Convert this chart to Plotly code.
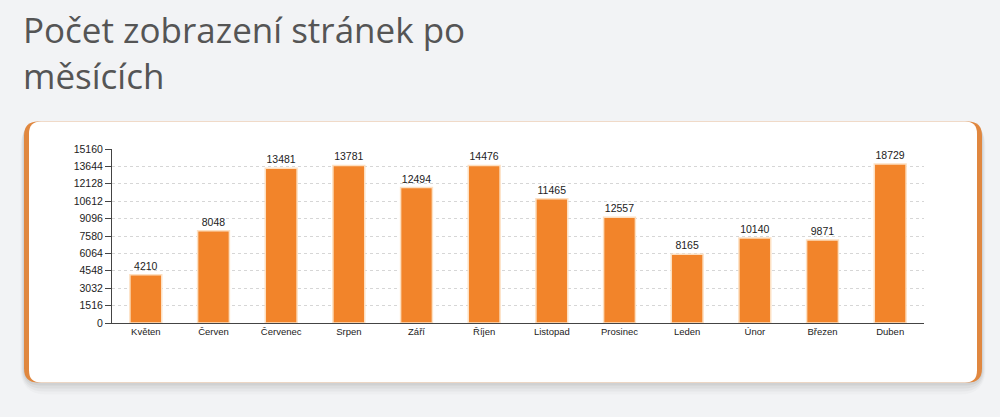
import plotly.graph_objects as go

months = ["Květen", "Červen", "Červenec", "Srpen", "Září", "Říjen",
          "Listopad", "Prosinec", "Leden", "Únor", "Březen", "Duben"]
bar_heights = [4210, 8048, 13481, 13730, 11800, 13730, 10820, 9220, 5980, 7400, 7230, 13850]
bar_labels = ["4210", "8048", "13481", "13781", "12494", "14476",
              "11465", "12557", "8165", "10140", "9871", "18729"]
y_ticks = [0, 1516, 3032, 4548, 6064, 7580, 9096, 10612, 12128, 13644, 15160]
title_lines = ["Počet zobrazení stránek po", "měsících"]

FIG_W, FIG_H = 1000, 417
L, R, T, B = 112, 924, 149.3, 322.7
PW, PH = R - L, B - T


def px(x):
    return (x - L) / PW


def py(y):
    return (B - y) / PH


def rrect(x0, y0, x1, y1, r):
    X0, X1 = px(x0), px(x1)
    Y0, Y1 = py(y0), py(y1)
    rx, ry = r / PW, r / PH
    return (f"M {X0+rx} {Y0} L {X1-rx} {Y0} Q {X1} {Y0} {X1} {Y0-ry} "
            f"L {X1} {Y1+ry} Q {X1} {Y1} {X1-rx} {Y1} L {X0+rx} {Y1} "
            f"Q {X0} {Y1} {X0} {Y1+ry} L {X0} {Y0-ry} Q {X0} {Y0} {X0+rx} {Y0} Z")


shapes = []
for d, op in [(12, 0.02), (9, 0.03), (6, 0.04), (3, 0.05)]:
    shapes.append(dict(type="path", xref="paper", yref="paper", layer="below",
                       path=rrect(24 - d * 0.3, 122, 982 + d * 0.3, 382 + d, 14 + d),
                       fillcolor=f"rgba(0,0,0,{op})", line=dict(width=0)))
shapes.append(dict(type="path", xref="paper", yref="paper", layer="below",
                   path=rrect(24, 122, 982, 382, 14),
                   fillcolor="#e0873f", line=dict(width=0)))
shapes.append(dict(type="path", xref="paper", yref="paper", layer="below",
                   path=rrect(29, 122, 977, 382, 12),
                   fillcolor="#ffffff", line=dict(width=0)))

fig = go.Figure()
fig.add_trace(go.Bar(
    x=months, y=bar_heights,
    text=bar_labels, textposition="outside",
    outsidetextfont=dict(family="Liberation Sans, Arial", size=10.5, color="#222"),
    marker=dict(color="#f2842a", line=dict(color="#fde0c2", width=1.5)),
    cliponaxis=False, hoverinfo="skip",
))

annotations = [dict(
    text="<br>".join(title_lines), xref="paper", yref="paper", x=px(21), y=py(5),
    xanchor="left", yanchor="top", align="left", showarrow=False,
    font=dict(family="Open Sans", size=35, color="#555555"),
)]

fig.update_layout(
    width=FIG_W, height=FIG_H,
    margin=dict(l=L, r=FIG_W - R, t=T, b=FIG_H - B, autoexpand=False),
    paper_bgcolor="#f2f3f5", plot_bgcolor="rgba(0,0,0,0)",
    bargap=0.53, showlegend=False,
    shapes=shapes,
    xaxis=dict(showgrid=False, showline=True, linecolor="#444", linewidth=1,
               ticks="", tickfont=dict(family="Liberation Sans, Arial", size=9.5, color="#222"),
               fixedrange=True),
    yaxis=dict(range=[0, 15160], tickvals=y_ticks, ticktext=[str(v) for v in y_ticks],
               showline=True, linecolor="#444", linewidth=1,
               ticks="outside", ticklen=6, tickcolor="#444",
               showgrid=True, gridcolor="#d6d6d6", griddash="dot", gridwidth=1,
               zeroline=False,
               tickfont=dict(family="Liberation Sans, Arial", size=10.5, color="#222"),
               fixedrange=True),
    annotations=annotations,
)

fig.write_html(
    "out.html",
    config={"displayModeBar": False, "staticPlot": True},
    post_script="document.body.style.margin='0';document.body.style.overflow='hidden';"
                "document.body.style.background='#f2f3f5';",
)
